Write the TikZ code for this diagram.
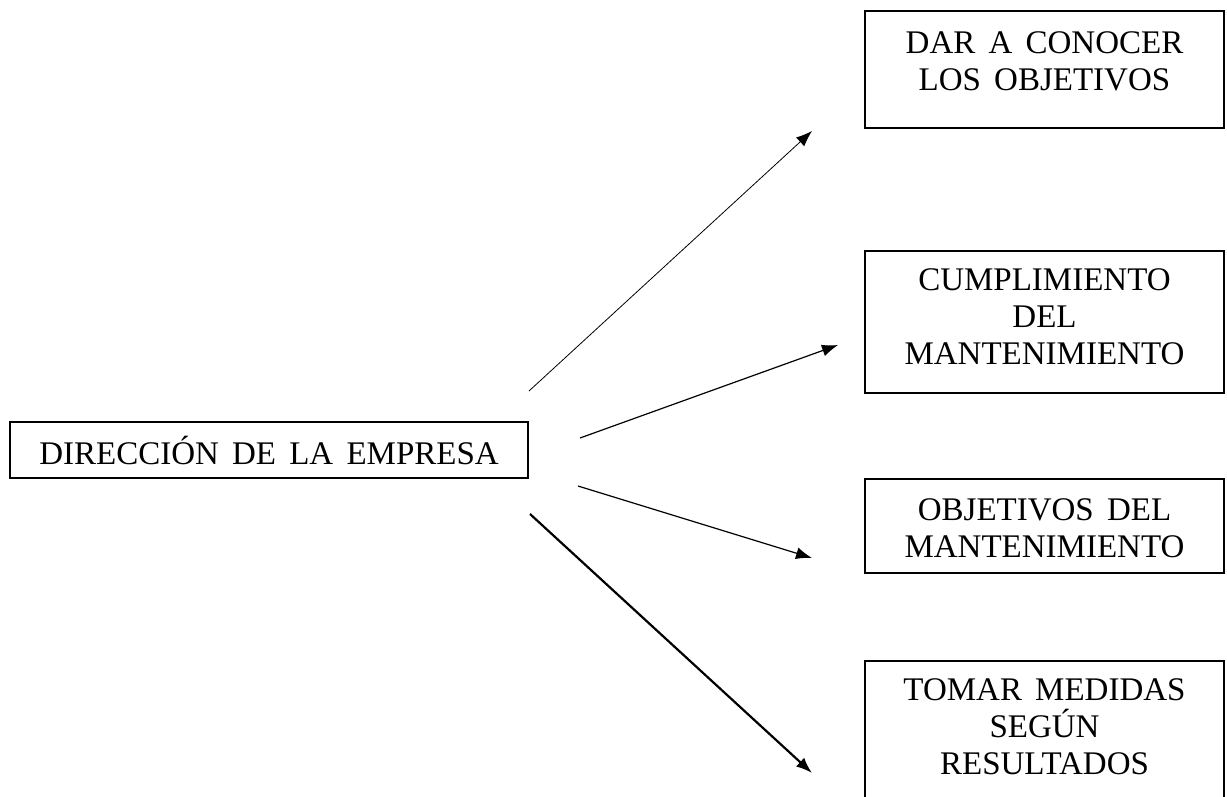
\documentclass[tikz,border=0pt]{standalone}
\usepackage{fontspec}
\setmainfont[WordSpace=1.6]{Liberation Serif}
\usetikzlibrary{arrows.meta}
\begin{document}
\begin{tikzpicture}[x=1pt,y=-1pt,
  frame/.style={draw=black, line width=2.8pt, inner sep=0pt, fill=white},
  lbl/.style={font=\fontsize{33}{37}\selectfont, align=center, inner sep=0pt},
  conn/.style={-{Latex[length=16pt,width=12pt]}, draw=black}]
\clip (0,0) rectangle (1227,796);
\fill[white] (0,0) rectangle (1227,796);
% boxes
\node[frame, lbl, minimum width=518pt, minimum height=56pt] (dir) at (269,450) {DIRECCIÓN DE LA EMPRESA};
\node[frame, minimum width=359pt, minimum height=117pt] (b1) at (1044.5,69.5) {};
\node[frame, minimum width=359pt, minimum height=142pt] (b2) at (1044.5,322) {};
\node[frame, minimum width=359pt, minimum height=94pt] (b3) at (1044.5,526) {};
\node[frame, minimum width=359pt, minimum height=180pt] (b4) at (1044.5,751) {};
% texts
\node[lbl] (t1) at (1044.5,61) {DAR A CONOCER\\LOS OBJETIVOS};
\node[lbl] (t2) at (1044.5,317) {CUMPLIMIENTO\\DEL\\MANTENIMIENTO};
\node[lbl] (t3) at (1044.5,528) {OBJETIVOS DEL\\MANTENIMIENTO};
\node[lbl] (t4) at (1044.5,727) {TOMAR MEDIDAS\\SEGÚN\\RESULTADOS};
% connector ends
\coordinate (s1) at (529,391);
\coordinate (e1) at (812,131);
\coordinate (s2) at (580,438);
\coordinate (e2) at (838,345);
\coordinate (s3) at (578,486);
\coordinate (e3) at (812,558);
\coordinate (s4) at (530,514);
\coordinate (e4) at (812,773);
\draw[conn, line width=0.8pt] (s1) -- (e1);
\draw[conn, line width=1.2pt] (s2) -- (e2);
\draw[conn, line width=1.2pt] (s3) -- (e3);
\draw[conn, line width=2.2pt] (s4) -- (e4);
\end{tikzpicture}
\end{document}
